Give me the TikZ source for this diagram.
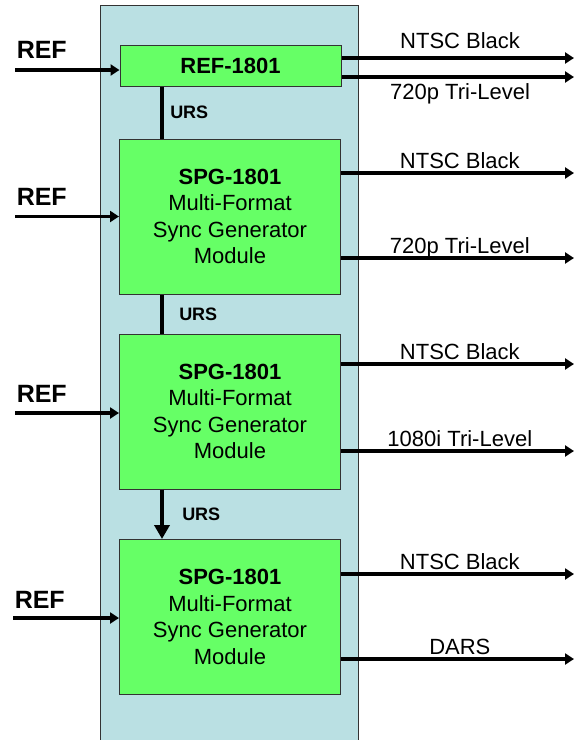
\documentclass[tikz,border=0pt]{standalone}
\usepackage{fontspec}
\setmainfont{Liberation Sans}
\usetikzlibrary{arrows.meta,positioning}
\definecolor{framebg}{RGB}{186,224,227}
\definecolor{modgreen}{RGB}{102,255,102}
\tikzset{
    sigarrow/.style={
        line width=3.5pt,
        black,
        -{Triangle[length=9pt, width=11pt]}
    },
    % URS link between modules
    ursline/.style={
        line width=4.5pt,
        black
    },
    modbox/.style={
        draw=black!80,
        line width=1pt,
        fill=modgreen,
        minimum width=221pt,
        minimum height=155pt,
        align=center,
        inner sep=0pt,
        font=\fontsize{22}{26.5}\selectfont
    },
    siglabel/.style={font=\fontsize{22}{26}\selectfont, inner sep=0pt, anchor=base, pos=0.51},
    reflabel/.style={font=\fontsize{25}{30}\selectfont\bfseries, inner sep=0pt, anchor=base west, pos=0},
    urslabel/.style={font=\fontsize{18}{22}\selectfont\bfseries, inner sep=0pt, anchor=west}
}

\begin{document}
\begin{tikzpicture}[x=1pt,y=-1pt]
	\useasboundingbox (0,0) rectangle (574,740);
	
	% rack frame
	\fill[framebg] (100,5) rectangle (358,740);
	\draw[line width=1pt,black!80] (100,740) -- (100,5) -- (358,5) -- (358,740);
	
	% modules
	\node[modbox, minimum height=41pt, font=\fontsize{22}{26.5}\selectfont\bfseries] (ref) at (230.5,65.5) {REF-1801};
	\node[modbox] (spg1) at (230,216.5) {\textbf{SPG-1801}\\Multi-Format\\Sync Generator\\Module};
	\node[modbox] (spg2) at (230,411.5) {\textbf{SPG-1801}\\Multi-Format\\Sync Generator\\Module};
	\node[modbox] (spg3) at (230,617) {\textbf{SPG-1801}\\Multi-Format\\Sync Generator\\Module};
	
	% URS links
	\draw[ursline] ([xshift=-68.5pt]ref.south) -- node[urslabel, xshift=6pt] (urs1) {URS} ([xshift=-68pt]spg1.north);
	\draw[ursline] ([xshift=-68pt]spg1.south) -- node[urslabel, xshift=15pt] (urs2) {URS} ([xshift=-68pt]spg2.north);
	\draw[ursline, -{Triangle[length=14pt, width=15pt]}] ([xshift=-68pt]spg2.south) -- node[urslabel, xshift=18pt] (urs3) {URS} ([xshift=-68pt]spg3.north);
	
	% REF inputs
	\coordinate (in0) at (15,70);
	\coordinate (in1) at (15,216.5);
	\coordinate (in2) at (15,413);
	\coordinate (in3) at (13,618);
	\draw[sigarrow] (in0) -- node[reflabel, yshift=12pt] (refin0) {REF} (in0 -| ref.west);
	\draw[sigarrow] (in1) -- node[reflabel, yshift=11pt] (refin1) {REF} (in1 -| spg1.west);
	\draw[sigarrow] (in2) -- node[reflabel, yshift=11pt] (refin2) {REF} (in2 -| spg2.west);
	\draw[sigarrow] (in3) -- node[reflabel, yshift=10pt] (refin3) {REF} (in3 -| spg3.west);
	
	% outputs
	\coordinate (out0a) at (574,58);
	\coordinate (out0b) at (574,77);
	\coordinate (out1a) at (574,173);
	\coordinate (out1b) at (574,258);
	\coordinate (out2a) at (574,364);
	\coordinate (out2b) at (574,451);
	\coordinate (out3a) at (574,574);
	\coordinate (out3b) at (574,659);
	\draw[sigarrow] (out0a -| ref.east) -- node[siglabel, yshift=10pt] (lab0a) {NTSC Black} (out0a);
	\draw[sigarrow] (out0b -| ref.east) -- node[siglabel, yshift=-22pt] (lab0b) {720p Tri-Level} (out0b);
	\draw[sigarrow] (out1a -| spg1.east) -- node[siglabel, yshift=5pt] (lab1a) {NTSC Black} (out1a);
	\draw[sigarrow] (out1b -| spg1.east) -- node[siglabel, yshift=5pt] (lab1b) {720p Tri-Level} (out1b);
	\draw[sigarrow] (out2a -| spg2.east) -- node[siglabel, yshift=5pt] (lab2a) {NTSC Black} (out2a);
	\draw[sigarrow] (out2b -| spg2.east) -- node[siglabel, yshift=5pt] (lab2b) {1080i Tri-Level} (out2b);
	\draw[sigarrow] (out3a -| spg3.east) -- node[siglabel, yshift=5pt] (lab3a) {NTSC Black} (out3a);
	\draw[sigarrow] (out3b -| spg3.east) -- node[siglabel, yshift=5pt] (lab3b) {DARS} (out3b);
\end{tikzpicture}
\end{document}
